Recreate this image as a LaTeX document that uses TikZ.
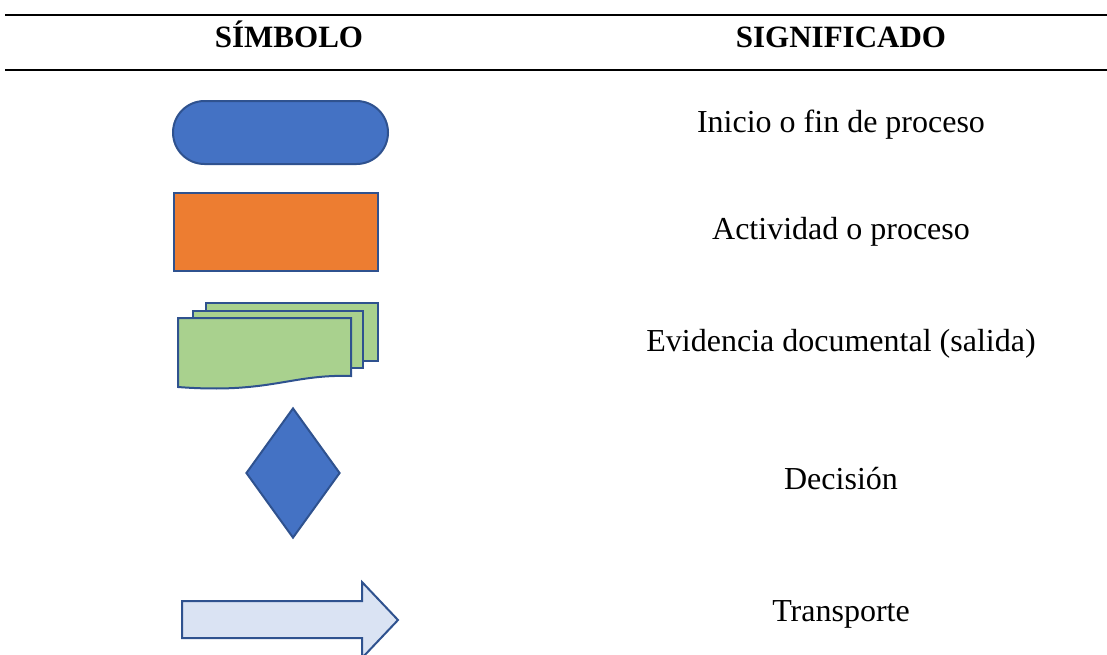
\documentclass[tikz,border=0pt]{standalone}
\usepackage{fontspec}
\setmainfont{Liberation Serif}
\usepackage{xcolor}
\usetikzlibrary{positioning,shapes.geometric}
\definecolor{kantblaa}{HTML}{2F528F}
\definecolor{fyllblaa}{HTML}{4472C4}
\definecolor{oransje}{HTML}{ED7D31}
\definecolor{lysgronn}{HTML}{A9D18E}
\definecolor{lysblaa}{HTML}{DAE3F3}

\begin{document}
\begin{tikzpicture}[x=1pt, y=-1pt, every node/.style={font=\fontsize{32}{38}\selectfont},
    symbol/.style={draw=kantblaa, line width=2pt, inner sep=0pt},
    tekst/.style={anchor=base, inner sep=0pt},
    overskrift/.style={anchor=base, inner sep=0pt, font=\fontsize{31}{36}\selectfont\bfseries}]
        \useasboundingbox (0,0) rectangle (1107,654);
        \draw[line width=2pt] (5,15) -- (1107,15);
        \draw[line width=2pt] (5,70) -- (1107,70);
        \node[overskrift] (hsymbol) at (289,47) {SÍMBOLO};
        \node[overskrift] (hbetyd) at (841,47) {SIGNIFICADO};
        \node[symbol, fill=fyllblaa, rounded corners=31.5pt, minimum width=215pt, minimum height=63pt] (start) at (280.5,132.5) {};
        \node[symbol, fill=oransje, minimum width=204pt, minimum height=78pt] (aktivitet) at (276,232) {};
        \draw[symbol, fill=lysgronn] (206,303) rectangle (378,361);
        \draw[symbol, fill=lysgronn] (193,311) rectangle (363,368);
        \draw[symbol, fill=lysgronn] (178,318) -- (351,318) -- (351,376)
            .. controls (290,374) and (270,394) .. (178,387) -- cycle;
        \coordinate (dokument) at (278,350);
        \node[symbol, fill=fyllblaa, diamond, minimum width=94pt, minimum height=130pt, aspect=0.72] (beslutning) at (293,473) {};
        \draw[symbol, fill=lysblaa] (182,601) -- (362,601) -- (362,582) -- (398,620)
            -- (362,658) -- (362,638) -- (182,638) -- cycle;
        \coordinate (transport) at (290,620);
        \node[tekst] (t1) at (841,132) {Inicio o fin de proceso};
        \node[tekst] (t2) at (841,239) {Actividad o proceso};
        \node[tekst] (t3) at (841,351) {Evidencia documental (salida)};
        \node[tekst] (t4) at (841,489) {Decisión};
        \node[tekst] (t5) at (841,621) {Transporte};
    \end{tikzpicture}
\end{document}
